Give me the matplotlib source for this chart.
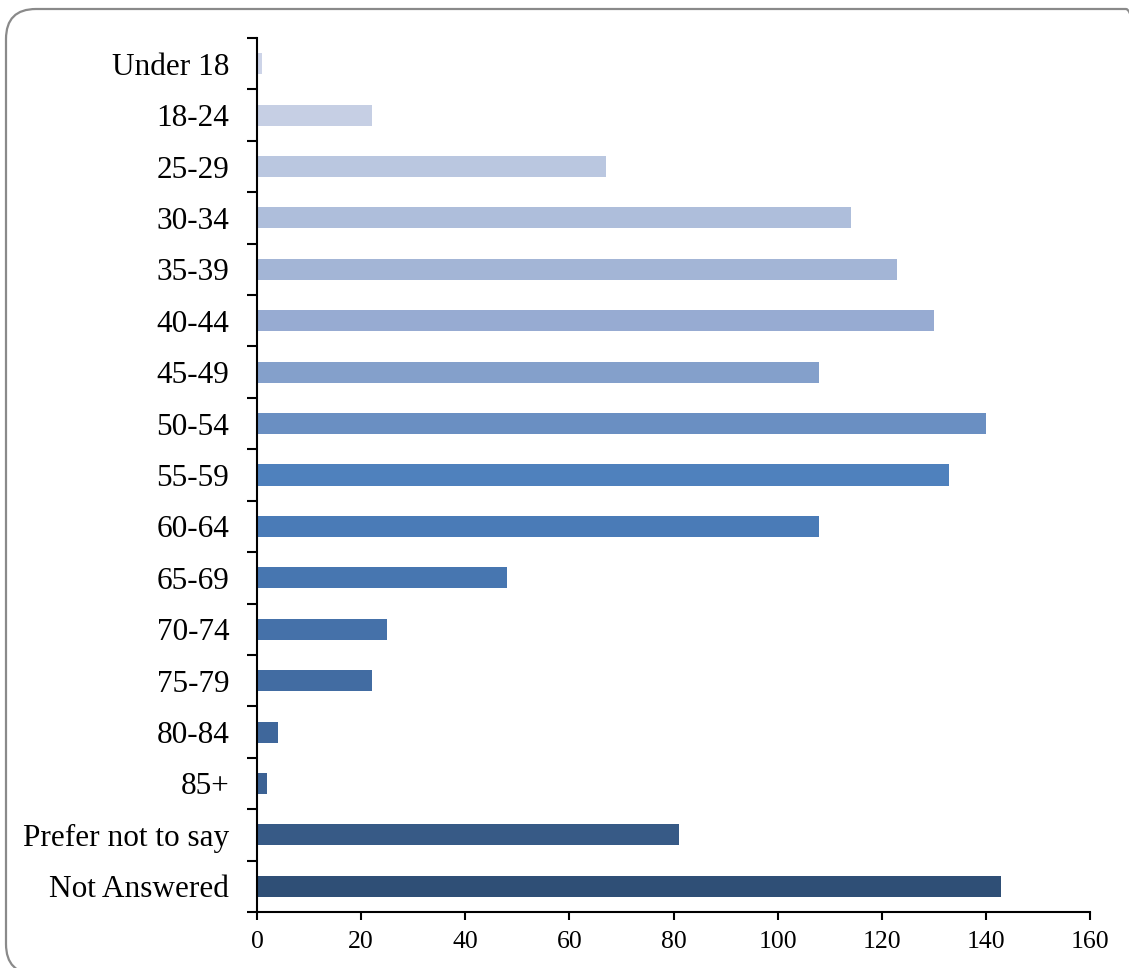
import matplotlib
matplotlib.use("Agg")
import matplotlib.pyplot as plt
from matplotlib.patches import FancyBboxPatch
from matplotlib.transforms import IdentityTransform

categories = ["Under 18", "18-24", "25-29", "30-34", "35-39", "40-44", "45-49",
              "50-54", "55-59", "60-64", "65-69", "70-74", "75-79", "80-84",
              "85+", "Prefer not to say", "Not Answered"]
values = [1, 22, 67, 114, 123, 130, 108, 140, 133, 108, 48, 25, 22, 4, 2, 81, 143]
x_ticks = [0, 20, 40, 60, 80, 100, 120, 140, 160]

bar_colors = ["#cdd4e8", "#c6cfe4", "#bac7e0", "#aebedb", "#a3b5d6", "#97abd2",
              "#84a0cb", "#6a8fc2", "#4f81bd", "#4a7bb7", "#4776b0", "#4571a9",
              "#426ca2", "#3f679b", "#3c6294", "#375a86", "#2f4f76"]

plt.rcParams['font.family'] = ['Liberation Serif', 'DejaVu Serif']

W, H = 1129, 968
fig = plt.figure(figsize=(W / 100, H / 100), dpi=100)
ax = fig.add_axes([257 / W, 1 - 912 / H, (1090 - 257) / W, (912 - 38) / H])

pos = list(range(len(categories)))
ax.barh(pos, values, height=0.41, color=bar_colors, zorder=2)

ax.set_ylim(len(categories) - 0.5, -0.5)
ax.set_xlim(0, 160)

ax.set_yticks(pos)
ax.set_yticklabels(categories, fontsize=22.5)
ax.set_yticks([p - 0.5 for p in pos] + [len(categories) - 0.5], minor=True)
ax.tick_params(axis='y', which='major', length=0, pad=20)
ax.tick_params(axis='y', which='minor', length=7.5, width=1.5, direction='out')

ax.set_xticks(x_ticks)
ax.set_xticklabels([str(t) for t in x_ticks], fontsize=18.5)
ax.tick_params(axis='x', which='major', length=6, width=1.5, direction='out', pad=8)

for s in ['top', 'right']:
    ax.spines[s].set_visible(False)
for s in ['left', 'bottom']:
    ax.spines[s].set_linewidth(1.5)
    ax.spines[s].set_color('black')

# rounded border (in pixel coordinates; y measured from bottom)
box = FancyBboxPatch((6, -6), 1150, H - 9 + 6, boxstyle="round,pad=0,rounding_size=30",
                     transform=IdentityTransform(), fill=False, edgecolor='#8a8a8a',
                     linewidth=1.6, figure=fig)
fig.patches.append(box)

fig.savefig("out.png", dpi=100)
